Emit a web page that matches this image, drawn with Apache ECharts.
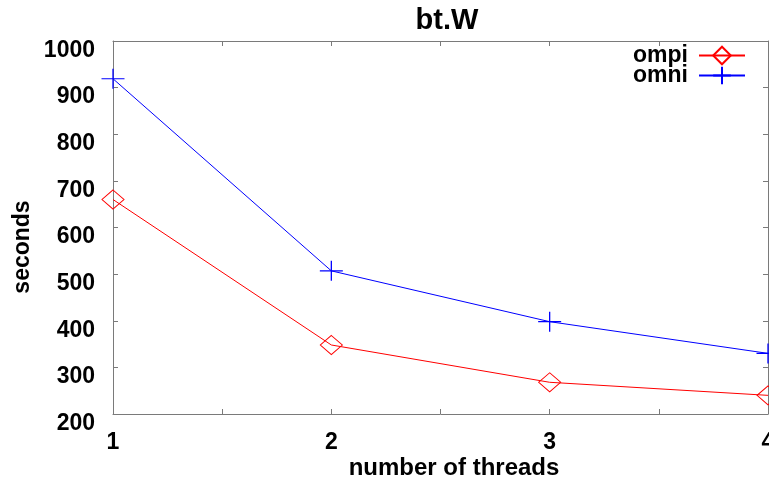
<!DOCTYPE html>
<html lang="en">
<head>
    <meta charset="UTF-8">
    <title>bt.W</title>
    <script src="https://cdn.jsdelivr.net/npm/echarts@6/dist/echarts.min.js"></script>
    <style>
        html, body { margin: 0; padding: 0; background: #fff; }
        #main { width: 769px; height: 482px; }
    </style>
</head>
<body>
    <div id="main"></div>
    <script type="text/javascript">
        // valores
        var threads = [1, 2, 3, 4];
        var ompi = [660, 348, 268, 240];
        var omni = [919, 507, 398, 330];
        var yTicks = [200, 300, 400, 500, 600, 700, 800, 900, 1000];

        var fonte = '"Liberation Sans", Arial, sans-serif';
        var cinza = '#7a7a7a';

        var grafico = echarts.init(document.getElementById('main'));

        function pares(ys) {
            return threads.map(function (x, i) { return [x, ys[i]]; });
        }

        var eixoX = {
            type: 'value', min: 1, max: 4, interval: 0.5,
            axisLine: { show: true, lineStyle: { color: cinza, width: 1 } },
            axisTick: { show: true, inside: true, length: 5, lineStyle: { color: cinza } },
            splitLine: { show: false }
        };
        var eixoY = {
            type: 'value', min: yTicks[0], max: yTicks[yTicks.length - 1], interval: 100,
            axisLine: { show: true, lineStyle: { color: cinza, width: 1 } },
            axisTick: { show: true, inside: true, length: 5, lineStyle: { color: cinza } },
            splitLine: { show: false }
        };

        var option = {
            animation: false,
            backgroundColor: '#fff',
            grid: { left: 113, right: 1, top: 41, bottom: 68, outerBoundsMode: 'none', containLabel: false },
            legend: {
                orient: 'vertical', right: 18, top: 39, align: 'right',
                itemWidth: 46, itemHeight: 22, itemGap: -3,
                textStyle: { fontFamily: fonte, fontSize: 23, fontWeight: 'bold', color: '#000', lineHeight: 19,
                             padding: [0, 6, 0, 0] },
                data: ['ompi', 'omni']
            },
            xAxis: [
                Object.assign({}, eixoX, {
                    position: 'bottom',
                    axisLabel: {
                        margin: 17, color: '#000', fontFamily: fonte, fontSize: 23, fontWeight: 'bold',
                        formatter: function (v) { return Number.isInteger(v) ? String(v) : ''; }
                    }
                }),
                Object.assign({}, eixoX, { position: 'top', axisLabel: { show: false } })
            ],
            yAxis: [
                Object.assign({}, eixoY, {
                    position: 'left',
                    axisLabel: {
                        margin: 18, color: '#000', fontFamily: fonte, fontSize: 23, fontWeight: 'bold',
                        verticalAlign: 'top', lineHeight: 19,
                        formatter: function (v) { return String(v); }
                    }
                }),
                Object.assign({}, eixoY, { position: 'right', axisLabel: { show: false } })
            ],
            graphic: [
                {
                    type: 'text', x: 447, y: 21,
                    style: { text: 'bt.W', fontFamily: fonte, fontSize: 29, fontWeight: 'bold', fill: '#000',
                             align: 'center', verticalAlign: 'middle' }
                },
                {
                    type: 'text', x: 454, y: 468,
                    style: { text: 'number of threads', fontFamily: fonte, fontSize: 24, fontWeight: 'bold', fill: '#000',
                             align: 'center', verticalAlign: 'middle' }
                },
                {
                    type: 'text', x: 23, y: 247, rotation: Math.PI / 2,
                    style: { text: 'seconds', fontFamily: fonte, fontSize: 23, fontWeight: 'bold', fill: '#000',
                             align: 'center', verticalAlign: 'middle' }
                }
            ],
            series: [
                {
                    name: 'ompi', type: 'line', data: pares(ompi),
                    symbol: 'path://M0,-1L1,0L0,1L-1,0Z', symbolSize: [22, 19],
                    lineStyle: { color: '#ff0000', width: 1 },
                    itemStyle: { color: 'rgba(0,0,0,0)', borderColor: '#ff0000', borderWidth: 1 },
                    clip: false
                },
                {
                    name: 'omni', type: 'line', data: pares(omni),
                    symbol: 'path://M-1,0L1,0M0,-1L0,1', symbolSize: [23, 20],
                    lineStyle: { color: '#0000ff', width: 1 },
                    itemStyle: { color: 'rgba(0,0,0,0)', borderColor: '#0000ff', borderWidth: 1.2 },
                    clip: false
                }
            ]
        };
        grafico.setOption(option);
    </script>
</body>
</html>
